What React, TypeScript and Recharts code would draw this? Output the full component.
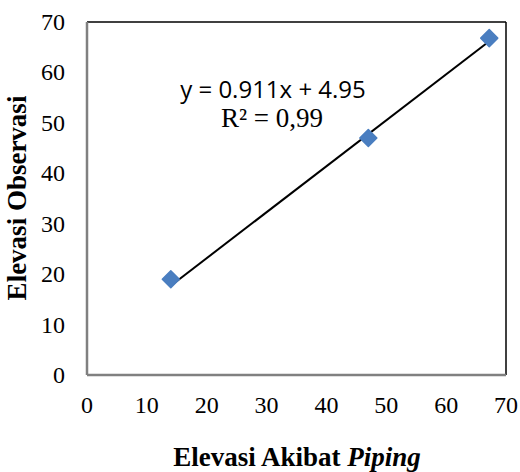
import React from "react";
import {
  ScatterChart,
  Scatter,
  XAxis,
  YAxis,
  ReferenceLine,
} from "recharts";

// observed points (Elevasi Akibat Piping vs Elevasi Observasi)
const pipingElev = [14, 47, 67.2];
const observedElev = [19, 47, 66.8];

// linear trendline as printed on the chart
const slope = 0.911;
const intercept = 4.95;
const rSquared = "0,99";

const axisTicks = [0, 10, 20, 30, 40, 50, 60, 70];

const points = pipingElev.map((x, i) => ({ x, y: observedElev[i] }));
const xMin = Math.min(...pipingElev);
const xMax = Math.max(...pipingElev);
const trend = [
  { x: xMin, y: slope * xMin + intercept },
  { x: xMax, y: slope * xMax + intercept },
];

const serif = "'Liberation Serif', 'Times New Roman', serif";

const Diamond = (props: any) => {
  const { cx, cy } = props;
  const r = 8.5;
  return (
    <path
      d={`M${cx},${cy - r} L${cx + r},${cy} L${cx},${cy + r} L${cx - r},${cy} Z`}
      fill="#4A7EC0"
      stroke="#4A7EC0"
      strokeWidth={1.5}
      strokeLinejoin="round"
    />
  );
};

const renderXTick = (props: any) => {
  const { x, y, payload } = props;
  return (
    <text key={`xt-${payload.value}`} x={x} y={y + 30} textAnchor="middle"
      dominantBaseline="central" style={{ fontFamily: serif, fontSize: 24, fill: "#000" }}>
      {payload.value}
    </text>
  );
};

const renderYTick = (props: any) => {
  const { x, y, payload } = props;
  return (
    <text key={`yt-${payload.value}`} x={x - 22} y={y} textAnchor="end"
      dominantBaseline="central" style={{ fontFamily: serif, fontSize: 24, fill: "#000" }}>
      {payload.value}
    </text>
  );
};

export default function App() {
  return (
    <div style={{ position: "absolute", left: 0, top: 0, background: "#fff" }}>
      <ScatterChart
        width={520}
        height={472}
        margin={{ top: 22, right: 14, bottom: 0, left: 0 }}
      >
        <XAxis
          type="number"
          dataKey="x"
          domain={[0, 70]}
          ticks={axisTicks}
          height={97}
          tickLine={false}
          tickSize={0}
          tickMargin={0}
          tick={renderXTick}
          axisLine={{ stroke: "#808080", strokeWidth: 2.5 }}
          allowDataOverflow
        />
        <YAxis
          type="number"
          dataKey="y"
          domain={[0, 70]}
          ticks={axisTicks}
          width={87}
          tickLine={false}
          tickSize={0}
          tickMargin={0}
          tick={renderYTick}
          axisLine={{ stroke: "#808080", strokeWidth: 2.5 }}
          allowDataOverflow
        />
        <ReferenceLine y={70} stroke="#000" strokeWidth={1.5} />
        <ReferenceLine x={70} stroke="#000" strokeWidth={1.5} />
        <Scatter
          data={trend}
          line={{ stroke: "#000", strokeWidth: 2 }}
          shape={() => null}
          isAnimationActive={false}
        />
        <Scatter data={points} shape={<Diamond />} isAnimationActive={false} />
      </ScatterChart>
      <svg
        width={520}
        height={472}
        style={{ position: "absolute", left: 0, top: 0, pointerEvents: "none" }}
      >
        <text x={273} y={88} textAnchor="middle" dominantBaseline="central"
          fontFamily="'Open Sans', 'Liberation Sans', sans-serif" fontSize={24} fill="#000">
          {`y = ${slope}x + ${intercept}`}
        </text>
        <text x={272} y={118} textAnchor="middle" dominantBaseline="central"
          fontFamily={serif} fontSize={27} fill="#000">
          {`R² = ${rSquared}`}
        </text>
        <text x={297} y={457} textAnchor="middle" dominantBaseline="central"
          fontFamily={serif} fontSize={27} fontWeight="bold" fill="#000">
          Elevasi Akibat <tspan fontStyle="italic">Piping</tspan>
        </text>
        <text x={17} y={198} textAnchor="middle" dominantBaseline="central"
          fontFamily={serif} fontSize={27} fontWeight="bold" fill="#000"
          transform="rotate(-90 17 198)">
          Elevasi Observasi
        </text>
      </svg>
    </div>
  );
}
